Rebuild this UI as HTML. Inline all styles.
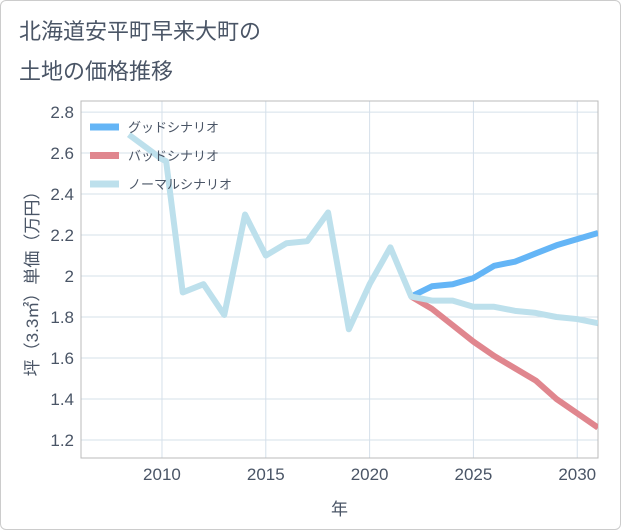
<!DOCTYPE html>
<html><head><meta charset="utf-8"><style>
body{margin:0;background:#fff;font-family:"Liberation Sans","Noto Sans CJK JP",sans-serif;}
#wrap{position:relative;width:619px;height:528px;border:1px solid #ccc;border-radius:6px;overflow:hidden;background:#fff}
</style></head><body>
<div id="wrap">
<svg id="svg" width="621" height="530" xmlns="http://www.w3.org/2000/svg">
<text x="18" y="38" font-size="22" fill="#4a5566">北海道安平町早来大町の</text>
<text x="18" y="78" font-size="22" fill="#4a5566">土地の価格推移</text>
<g id="grid"></g><g id="series"></g><g id="legend"></g>
</svg></div>
<script>
const xTicks=[2010,2015,2020,2025,2030];
const yTicks=[1.2,1.4,1.6,1.8,2,2.2,2.4,2.6,2.8];
const yTickLabels=["1.2","1.4","1.6","1.8","2","2.2","2.4","2.6","2.8"];
const normalYears=[2008.4,2010,2010.2,2011,2012,2013,2014,2015,2016,2017,2018,2019,2020,2021,2022,2023,2024,2025,2026,2027,2028,2029,2030,2031];
const normalValues=[2.69,2.57,2.56,1.92,1.96,1.81,2.30,2.10,2.16,2.17,2.31,1.74,1.96,2.14,1.90,1.88,1.88,1.85,1.85,1.83,1.82,1.80,1.79,1.77];
const futureYears=[2022,2023,2024,2025,2026,2027,2028,2029,2030,2031];
const goodValues=[1.90,1.95,1.96,1.99,2.05,2.07,2.11,2.15,2.18,2.21];
const badValues=[1.90,1.84,1.76,1.68,1.61,1.55,1.49,1.40,1.33,1.26];
const L=80,R=597,T=100,B=457,x0=2006.1,x1=2031,y0=1.112,y1=2.854;
const X=v=>L+(v-x0)/(x1-x0)*(R-L), Y=v=>B-(v-y0)/(y1-y0)*(B-T);
const NS="http://www.w3.org/2000/svg";
function mk(tag,attrs,parent,txt){const e=document.createElementNS(NS,tag);for(const k in attrs)e.setAttribute(k,attrs[k]);if(txt!==undefined)e.textContent=txt;parent.appendChild(e);return e;}
const g=document.getElementById('grid');
xTicks.forEach(t=>{const l=mk('line',{x1:X(t),x2:X(t),y1:T,y2:B,stroke:'#d5e0ea','stroke-width':1},g);

const tx=mk('text',{x:X(t),y:B+22,'text-anchor':'middle','font-size':17,fill:'#4a5566'},g,String(t));
});
yTicks.forEach((t,i)=>{const l=mk('line',{x1:L,x2:R,y1:Y(t),y2:Y(t),stroke:'#d5e0ea','stroke-width':1},g);

const tx=mk('text',{x:L-7,y:Y(t)+6,'text-anchor':'end','font-size':17,fill:'#4a5566'},g,yTickLabels[i]);
});
const fr=mk('rect',{x:L,y:T,width:R-L,height:B-T,fill:'none',stroke:'#bbb','stroke-width':1},g);

const xt=mk('text',{x:(L+R)/2,y:514,'text-anchor':'middle','font-size':17,fill:'#4a5566'},g,'年');

const yt=mk('text',{x:0,y:0,'text-anchor':'middle','font-size':17,fill:'#4a5566',transform:`translate(37,${(T+B)/2}) rotate(-90)`},g,'坪（3.3㎡）単価（万円）');

const s=document.getElementById('series');
function line(xs,vs,color,name){const p=mk('polyline',{points:xs.map((x,i)=>X(x)+','+Y(vs[i])).join(' '),fill:'none',stroke:color,'stroke-width':6,'stroke-linejoin':'round','clip-path':'url(#clip)'},s);
}
const defs=mk('defs',{},s);const cp=mk('clipPath',{id:'clip'},defs);mk('rect',{x:L,y:T,width:R-L,height:B-T},cp);
line(futureYears,goodValues,'#64b5f6','good-scenario-line');
line(futureYears,badValues,'#e0868e','bad-scenario-line');
line(normalYears,normalValues,'#bde0ec','normal-scenario-line');
const lg=document.getElementById('legend');
[['グッドシナリオ','#64b5f6'],['バッドシナリオ','#e0868e'],['ノーマルシナリオ','#bde0ec']].forEach((d,i)=>{
const y=126+i*28.5;
const l=mk('line',{x1:89,x2:118,y1:y,y2:y,stroke:d[1],'stroke-width':7},lg);

const t=mk('text',{x:127,y:y+5,'font-size':13,fill:'#4a5566'},lg,d[0]);
});
</script></body></html>
